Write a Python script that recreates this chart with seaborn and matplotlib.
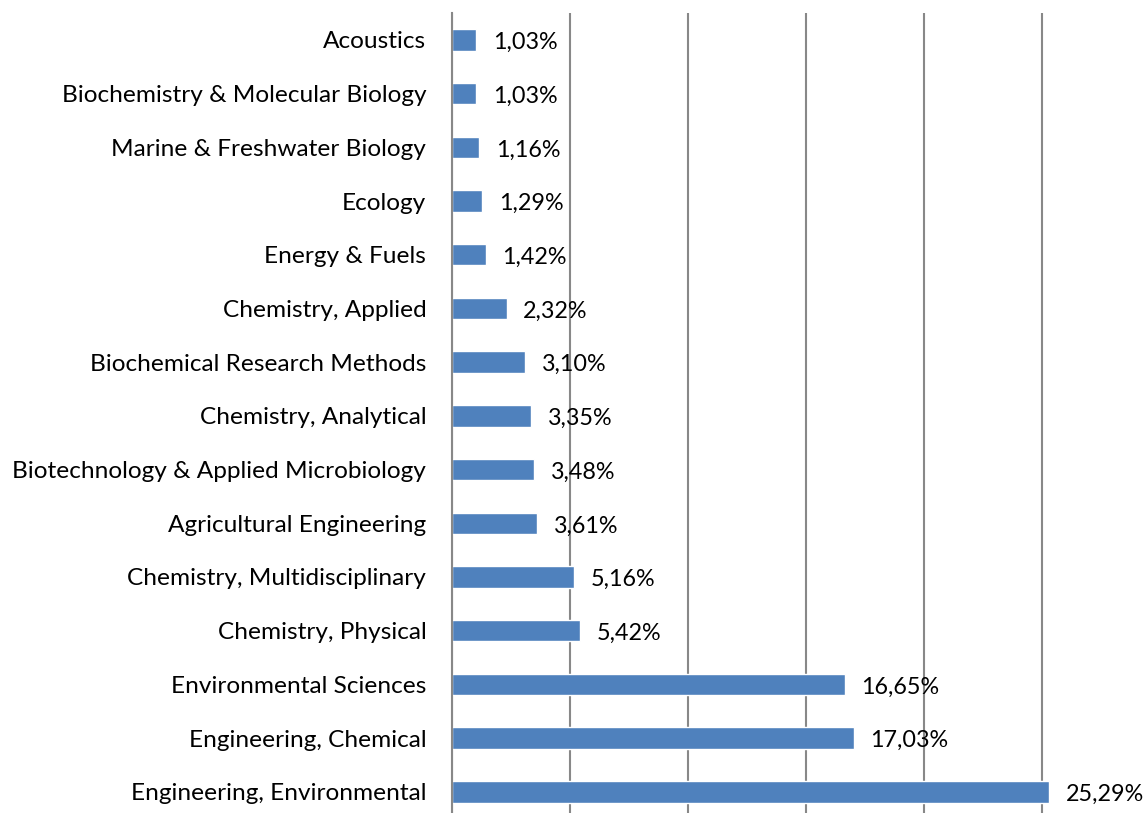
import matplotlib
matplotlib.use("Agg")
import matplotlib.pyplot as plt
import seaborn as sns
import numpy as np
import pandas as pd

categories = [
    "Acoustics",
    "Biochemistry & Molecular Biology",
    "Marine & Freshwater Biology",
    "Ecology",
    "Energy & Fuels",
    "Chemistry, Applied",
    "Biochemical Research Methods",
    "Chemistry, Analytical",
    "Biotechnology & Applied Microbiology",
    "Agricultural Engineering",
    "Chemistry, Multidisciplinary",
    "Chemistry, Physical",
    "Environmental Sciences",
    "Engineering, Chemical",
    "Engineering, Environmental",
]
shares = [1.03, 1.03, 1.16, 1.29, 1.42, 2.32, 3.10, 3.35, 3.48, 3.61,
          5.16, 5.42, 16.65, 17.03, 25.29]
grid_ticks = [0, 5, 10, 15, 20, 25]

sns.set_style("white")
plt.rcParams["font.family"] = ["Lato", "DejaVu Sans"]

df = pd.DataFrame({"category": categories, "share": shares})

fig = plt.figure(figsize=(11.46, 8.13), dpi=100)
ax = fig.add_axes([0.3944, -0.007, 0.6056, 0.991])

sns.barplot(data=df, y="category", x="share", orient="h", color="#4F81BD",
            width=0.4, saturation=1, ax=ax)

ax.set_xlim(0, 29.4)
ax.set_xticks(grid_ticks)
ax.set_xticklabels([])
ax.tick_params(axis="x", length=0)
ax.grid(axis="x", color="#888888", linewidth=1.5)
ax.set_axisbelow(True)

ax.set_ylabel("")
ax.set_xlabel("")
ax.tick_params(axis="y", which="major", length=0, pad=18.5, labelsize=17.6,
               labelcolor="black")
ax.set_yticks(np.arange(len(categories) + 1) - 0.5, minor=True)
ax.tick_params(axis="y", which="minor", length=8, width=1.5, color="#888888")

for side in ["top", "right", "bottom"]:
    ax.spines[side].set_visible(False)
ax.spines["left"].set_color("#888888")
ax.spines["left"].set_linewidth(1.5)

for i, v in enumerate(shares):
    ax.text(v + 0.7, i + 0.05, f"{v:.2f}%".replace(".", ","),
            va="center", ha="left", fontsize=16.8, color="black")

fig.savefig("out.png", dpi=100)
